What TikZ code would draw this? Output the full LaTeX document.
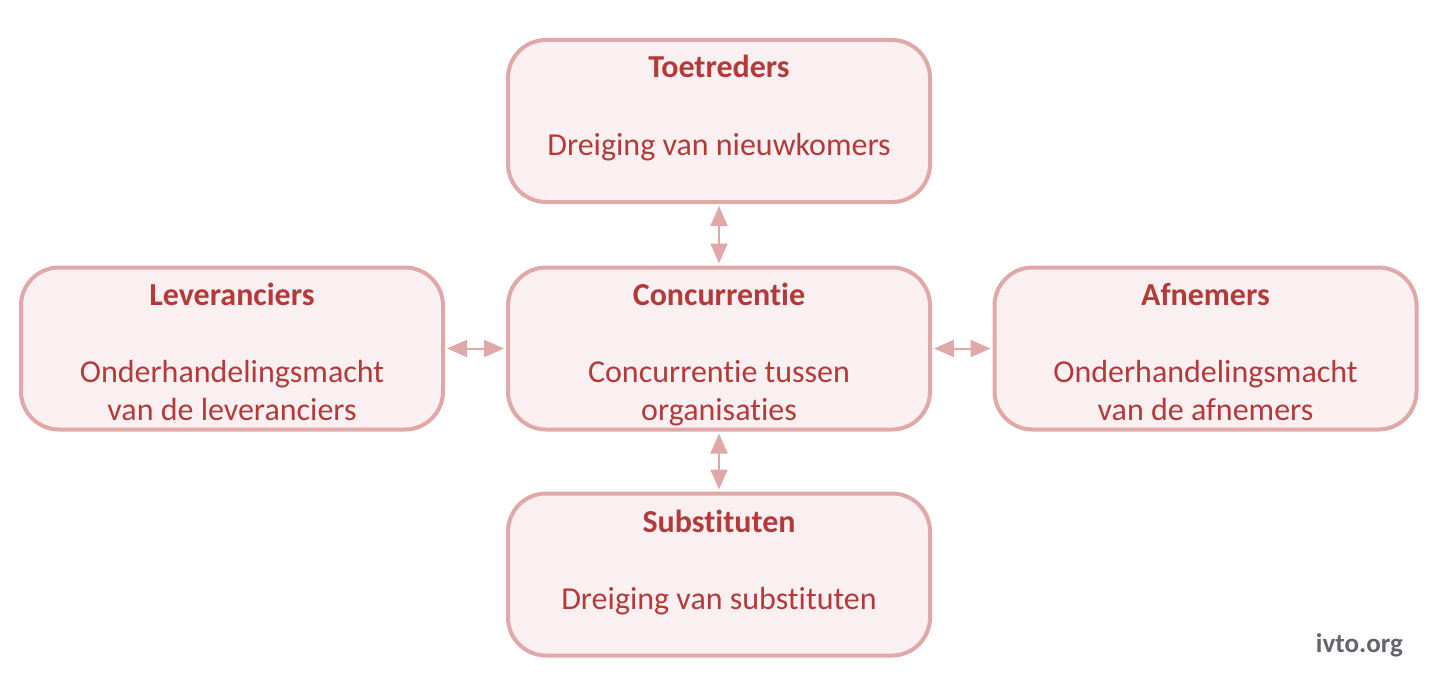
\documentclass[tikz,border=0pt]{standalone}
\usepackage{fontspec}
\setmainfont{Carlito}[Ligatures=NoCommon]
\usetikzlibrary{arrows.meta}
\definecolor{bordc}{RGB}{224,168,168}
\definecolor{fillc}{RGB}{251,240,241}
\definecolor{txtc}{RGB}{180,58,58}
\definecolor{greyc}{RGB}{100,100,106}
\tikzset{
  box/.style={draw=bordc, fill=fillc, line width=4pt, rounded corners=38pt,
    minimum width=422pt, minimum height=162pt, inner sep=0pt},
  ttl/.style={font=\fontsize{32}{38.5}\selectfont\bfseries, text=txtc, anchor=base, inner sep=0pt},
  bdy/.style={font=\fontsize{32}{38.5}\selectfont, text=txtc, anchor=base, inner sep=0pt, align=center},
  dbl/.style={draw=bordc, line width=2pt, {Triangle[length=20pt,width=17pt]}-{Triangle[length=20pt,width=17pt]}, shorten <=2pt, shorten >=2pt}
}
\begin{document}
\begin{tikzpicture}[x=1pt,y=-1pt]
\useasboundingbox (0,0) rectangle (1442,698);
\node[box] (top) at (719,121) {};
\node[box] (mid) at (719,348.5) {};
\node[box] (lft) at (232,348.5) {};
\node[box] (rgt) at (1205.5,348.5) {};
\node[box] (bot) at (719,574.5) {};

\node[ttl] (topt) at (719,78) {Toetreders};
\node[bdy] (topb) at (719,155) {Dreiging van nieuwkomers};

\node[ttl] (midt) at (719,305) {Concurrentie};
\node[bdy] (midb1) at (719,382) {Concurrentie tussen};
\node[bdy] (midb2) at (719,420.5) {organisaties};

\node[ttl] (lftt) at (232,305) {Leveranciers};
\node[bdy] (lftb1) at (232,382) {Onderhandelingsmacht};
\node[bdy] (lftb2) at (232,420.5) {van de leveranciers};

\node[ttl] (rgtt) at (1205.5,305) {Afnemers};
\node[bdy] (rgtb1) at (1205.5,382) {Onderhandelingsmacht};
\node[bdy] (rgtb2) at (1205.5,420.5) {van de afnemers};

\node[ttl] (bott) at (719,532) {Substituten};
\node[bdy] (botb) at (719,609) {Dreiging van substituten};

\node[font=\fontsize{27}{32}\selectfont\bfseries, text=greyc, anchor=base east, inner sep=0pt] (web) at (1403,652) {ivto.org};

\draw[dbl] (top.south) -- (mid.north);
\draw[dbl] (mid.south) -- (bot.north);
\draw[dbl] (lft.east) -- (mid.west);
\draw[dbl] (rgt.west) -- (mid.east);
\end{tikzpicture}
\end{document}
